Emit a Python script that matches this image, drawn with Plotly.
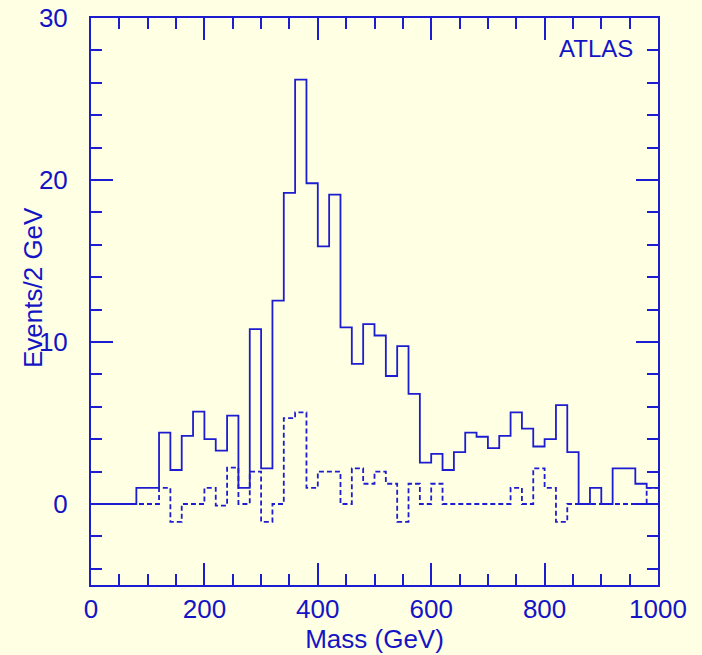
import numpy as np
import plotly.graph_objects as go

bin_width = 20
bin_left = list(range(0, 1000, bin_width))

signal = [0, 0, 0, 0, 1.0, 1.0, 4.4, 2.1, 4.2, 5.7,
          4.0, 3.3, 5.45, 1.0, 10.8, 2.2, 12.55, 19.2, 26.2, 19.8,
          15.9, 19.1, 10.9, 8.65, 11.1, 10.4, 7.9, 9.75, 6.8, 2.55,
          3.1, 2.1, 3.2, 4.4, 4.15, 3.45, 4.2, 5.65, 4.65, 3.55,
          4.0, 6.1, 3.2, 0, 1.0, 0, 2.2, 2.2, 1.25, 1.0]

background = [0, 0, 0, 0, 0, 0, 1.0, -1.1, 0, 0,
              1.0, -0.1, 2.25, 0, 2.0, -1.1, 0, 5.3, 5.65, 1.0,
              2.0, 2.0, 0, 2.2, 1.25, 2.0, 1.25, -1.1, 1.25, 0,
              1.25, 0, 0, 0, 0, 0, 0, 1.0, 0, 2.2,
              1.0, -1.1, 0, 0, 0, 0, 0, 0, 0, 1.0]

x_ticks = [0, 200, 400, 600, 800, 1000]
y_ticks = [0, 10, 20, 30]

BLUE = "#1c1cd0"
TEXT = "#1414c4"
BG = "#ffffe4"
FONT = "Liberation Sans, Arial, sans-serif"

xs = bin_left + [bin_left[-1] + bin_width]

fig = go.Figure()
fig.add_trace(go.Scatter(x=xs, y=background + [background[-1]], mode="lines",
                         line=dict(shape="hv", color=BLUE, width=1.8, dash="5px,3px"),
                         showlegend=False, hoverinfo="skip"))
fig.add_trace(go.Scatter(x=xs, y=signal + [signal[-1]], mode="lines",
                         line=dict(shape="hv", color=BLUE, width=1.8),
                         showlegend=False, hoverinfo="skip"))
# invisible trace so the mirrored (top/right) tick axes are drawn
fig.add_trace(go.Scatter(x=[None], y=[None], xaxis="x2", yaxis="y2",
                         mode="lines", showlegend=False, hoverinfo="skip"))

common = dict(showgrid=False, zeroline=False, showline=True, linecolor=BLUE,
              linewidth=2, ticks="inside", tickcolor=BLUE, tickwidth=1.5,
              ticklen=22, automargin=False)

fig.update_layout(
    width=702, height=655, autosize=False,
    margin=dict(l=91, r=44, t=18, b=70),
    paper_bgcolor=BG, plot_bgcolor=BG,
    font=dict(family=FONT, color=TEXT, size=26),
    xaxis=dict(range=[0, 1000], tickvals=x_ticks,
               ticktext=[str(v) for v in x_ticks],
               minor=dict(ticks="inside", ticklen=11, dtick=50, tickcolor=BLUE, tickwidth=1.5),
               ticklabelstandoff=0,
               tickfont=dict(size=26, color=TEXT),
               title=dict(text="Mass (GeV)", font=dict(size=26, color=TEXT), standoff=0),
               **common),
    yaxis=dict(range=[-5, 30], tickvals=y_ticks,
               ticktext=[str(v) for v in y_ticks],
               minor=dict(ticks="inside", ticklen=11, dtick=2, tick0=0, tickcolor=BLUE, tickwidth=1.5),
               ticklabelstandoff=16,
               tickfont=dict(size=26, color=TEXT),
               **common),
    xaxis2=dict(range=[0, 1000], overlaying="x", side="top", tickvals=x_ticks,
                showticklabels=False,
                minor=dict(ticks="inside", ticklen=11, dtick=50, tickcolor=BLUE, tickwidth=1.5),
                **common),
    yaxis2=dict(range=[-5, 30], overlaying="y", side="right", tickvals=y_ticks,
                showticklabels=False,
                minor=dict(ticks="inside", ticklen=11, dtick=2, tick0=0, tickcolor=BLUE, tickwidth=1.5),
                **common),
    annotations=[
        dict(text="Events/2 GeV", xref="paper", yref="paper",
             x=(33 - 91) / 567, y=(585 - 288) / 567, textangle=-90,
             showarrow=False, font=dict(size=26, color=TEXT),
             xanchor="center", yanchor="middle"),
        dict(text="ATLAS", xref="paper", yref="paper",
             x=(596 - 91) / 567, y=(585 - 48) / 567,
             showarrow=False, font=dict(size=24, color=TEXT),
             xanchor="center", yanchor="middle"),
    ],
)

fig.write_html(
    "out.html",
    config={"displayModeBar": False},
    post_script="document.body.style.margin='0';document.body.style.background='%s';" % BG,
)
